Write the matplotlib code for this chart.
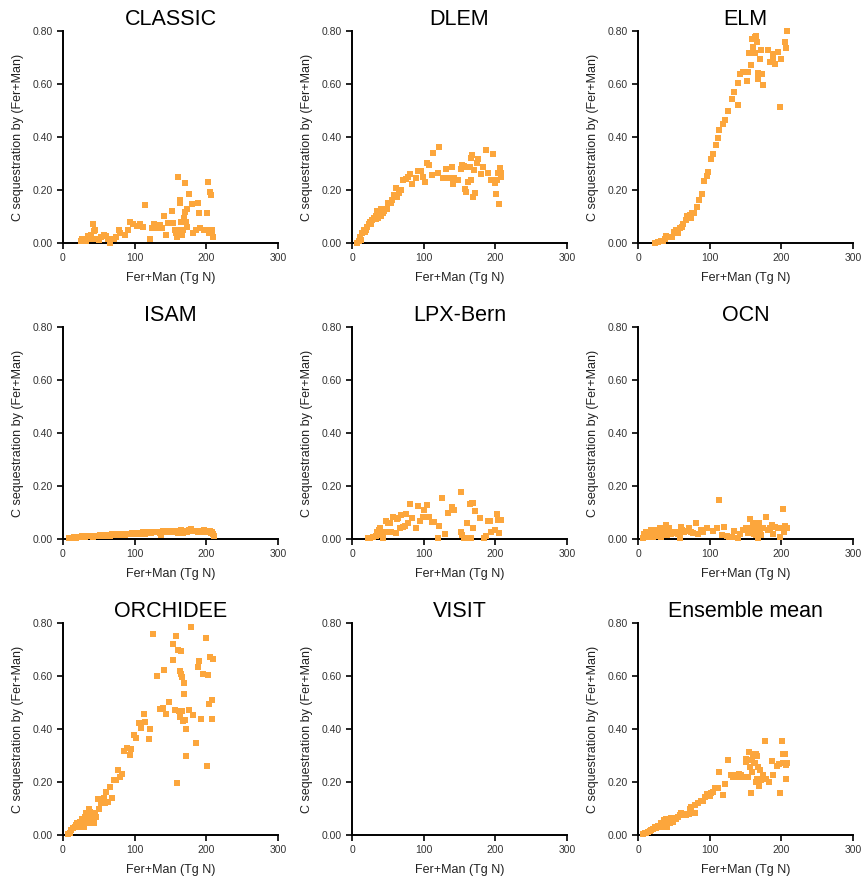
import numpy as np
import matplotlib.pyplot as plt

plt.rcParams['font.family'] = ['Liberation Sans', 'DejaVu Sans']

models = ['CLASSIC', 'DLEM', 'ELM', 'ISAM', 'LPX-Bern', 'OCN',
          'ORCHIDEE', 'VISIT', 'Ensemble mean']

classic_x = [24.7, 26.6, 32.6, 35, 38, 42, 43, 45, 39.6, 46.6, 50, 53.6, 57, 60.6, 63, 65, 71, 74.6,
             78, 80, 86, 91, 93, 98, 102.6, 107, 111, 114, 121, 123.5, 127, 130.5, 135, 138.5, 141,
             143.6, 147, 152, 154, 155.7, 157.6, 158.5, 160, 161.3, 163, 163.6, 165, 166, 167, 168.8,
             169.7, 170, 171, 172.5, 173.4, 176, 180, 182, 185, 188, 189.7, 191, 196.7, 200.5, 201.4,
             202.8, 204, 205.6, 207, 208, 209, 207.5]
classic_y = [0.009, 0.014, 0.009, 0.026, 0.014, 0.072, 0.045, 0.049, 0.03, 0.014, 0.011, 0.021, 0.03,
             0.028, 0.014, 0.0, 0.014, 0.021, 0.049, 0.039, 0.03, 0.049, 0.08, 0.072, 0.064, 0.072,
             0.062, 0.145, 0.014, 0.058, 0.072, 0.058, 0.068, 0.058, 0.1, 0.03, 0.077, 0.122, 0.077,
             0.049, 0.036, 0.024, 0.25, 0.049, 0.162, 0.152, 0.078, 0.03, 0.049, 0.093, 0.228, 0.118,
             0.08, 0.127, 0.062, 0.184, 0.147, 0.036, 0.049, 0.152, 0.114, 0.055, 0.049, 0.114, 0.049,
             0.23, 0.036, 0.194, 0.181, 0.036, 0.021, 0.049]

dlem_x = [7, 9.4, 11.7, 14, 16.4, 18.8, 21, 23.4, 25.8, 28, 30.5, 32.8, 34.2, 36, 37.5, 39.8, 40.8,
          42.7, 44.5, 48.3, 50.2, 54, 56.3, 58.6, 61, 62.4, 65.6, 68, 71.7, 75, 78.3, 81, 84.4, 89,
          92.4, 96, 98.4, 101.7, 104.5, 108, 112.5, 111.6, 119.5, 122, 126.6, 131, 135, 139.7, 141,
          143, 147.7, 151.4, 153.3, 156, 158, 158.5, 160.8, 161.7, 164, 165.5, 166.4, 167.8, 168.3,
          170.2, 172, 174, 175.8, 179.6, 182.8, 187.5, 190, 193.6, 197.4, 199.3, 201.6, 203, 204,
          205, 206.3, 207.7, 207.7, 12.5, 20, 27, 33.5]
dlem_y = [0.0, 0.009, 0.021, 0.036, 0.049, 0.043, 0.062, 0.072, 0.08, 0.087, 0.093, 0.102, 0.122,
          0.093, 0.112, 0.127, 0.1, 0.112, 0.122, 0.127, 0.152, 0.152, 0.162, 0.181, 0.209, 0.175,
          0.187, 0.2, 0.238, 0.24, 0.25, 0.26, 0.223, 0.244, 0.273, 0.273, 0.25, 0.231, 0.303, 0.294,
          0.341, 0.257, 0.265, 0.364, 0.244, 0.278, 0.244, 0.288, 0.223, 0.244, 0.238, 0.278, 0.294,
          0.29, 0.203, 0.194, 0.288, 0.231, 0.288, 0.32, 0.238, 0.332, 0.175, 0.275, 0.19, 0.303,
          0.316, 0.26, 0.288, 0.351, 0.265, 0.238, 0.336, 0.225, 0.185, 0.238, 0.263, 0.147, 0.282,
          0.248, 0.263, 0.012, 0.05, 0.07, 0.09]

elm_x = [24, 28, 31.8, 35, 37.4, 39.7, 42, 44.4, 47.7, 50.5, 53.7, 56, 58.4, 60.7, 63, 66.4, 69, 72,
         73.8, 75.7, 78.5, 81.8, 85, 88.8, 92.5, 95.8, 98, 101.9, 105, 108.4, 111.2, 113, 119,
         121.5, 126, 130.8, 134.6, 139, 140, 142, 147, 152, 153, 155, 158, 159, 160.7, 162.6, 163.5,
         164.5, 165.4, 167, 168, 169.6, 171, 172.9, 175, 181, 184.6, 187.9, 189, 191.6, 195, 198.6,
         200, 204.7, 206.5, 207.5]
elm_y = [0.0, 0.005, 0.009, 0.009, 0.014, 0.026, 0.021, 0.024, 0.021, 0.043, 0.049, 0.039, 0.055,
         0.062, 0.072, 0.087, 0.1, 0.106, 0.093, 0.112, 0.114, 0.137, 0.162, 0.185, 0.234, 0.253,
         0.269, 0.318, 0.335, 0.37, 0.397, 0.426, 0.448, 0.464, 0.498, 0.543, 0.571, 0.52, 0.605,
         0.638, 0.647, 0.613, 0.647, 0.716, 0.672, 0.77, 0.741, 0.776, 0.716, 0.781, 0.76, 0.64,
         0.618, 0.694, 0.728, 0.638, 0.596, 0.728, 0.684, 0.713, 0.697, 0.674, 0.722, 0.512, 0.693,
         0.76, 0.737, 0.8]

isam_x = [8, 10, 13, 16, 18, 21, 24, 27, 30, 33, 36, 39, 42, 45, 48, 51, 54, 57, 60, 63, 66, 69, 72,
          75, 78, 81, 84, 87, 90, 93, 96, 99, 102, 105, 108, 111, 114, 117, 120, 123, 126, 129, 132,
          135, 137, 140, 143, 146, 149, 152, 155, 158, 161, 164, 167, 170, 173, 176, 179, 182, 185,
          188, 191, 194, 197, 200, 203, 206, 209, 210, 208, 205]
isam_y = [0.002, 0.004, 0.005, 0.006, 0.004, 0.008, 0.009, 0.01, 0.008, 0.011, 0.01, 0.012, 0.009,
          0.011, 0.013, 0.015, 0.012, 0.014, 0.011, 0.016, 0.013, 0.017, 0.014, 0.018, 0.016, 0.019,
          0.017, 0.016, 0.02, 0.019, 0.021, 0.022, 0.02, 0.023, 0.019, 0.025, 0.02, 0.024, 0.026,
          0.022, 0.027, 0.025, 0.028, 0.022, 0.015, 0.03, 0.028, 0.032, 0.027, 0.029, 0.025, 0.031,
          0.024, 0.033, 0.024, 0.03, 0.028, 0.034, 0.036, 0.032, 0.029, 0.027, 0.025, 0.03, 0.033,
          0.028, 0.031, 0.022, 0.018, 0.012, 0.026, 0.03]

lpx_x = [22, 25.8, 29.5, 32.8, 34.2, 36, 37.5, 39, 39.8, 40.8, 42, 43.6, 45.5, 47, 50.2, 53, 54.8,
         57.7, 61, 62.4, 64.2, 67, 69, 70.8, 73.6, 75, 78.3, 81, 84.4, 89, 92.4, 95.2, 98.4, 100.8,
         104.5, 108, 111, 114, 119.5, 122, 125.6, 130, 134.5, 139.7, 142, 151.4, 151.4, 153.8, 156,
         160.8, 162.7, 164, 165.5, 167.4, 168.8, 169, 171, 178, 184, 187.5, 190, 192.7, 194.6, 199,
         203, 204, 205, 207.7]
lpx_y = [0.003, 0.005, 0.009, 0.013, 0.025, 0.018, 0.034, 0.043, 0.028, 0.015, 0.021, 0.005, 0.025,
         0.068, 0.059, 0.059, 0.025, 0.084, 0.021, 0.075, 0.08, 0.043, 0.09, 0.046, 0.05, 0.093,
         0.059, 0.131, 0.078, 0.043, 0.126, 0.068, 0.084, 0.109, 0.128, 0.084, 0.065, 0.065, 0.005,
         0.05, 0.156, 0.018, 0.097, 0.122, 0.109, 0.176, 0.028, 0.015, 0.005, 0.059, 0.005, 0.131,
         0.005, 0.134, 0.04, 0.134, 0.106, 0.08, 0.003, 0.013, 0.068, 0.068, 0.025, 0.034, 0.093,
         0.072, 0.021, 0.072]

ocn_x = [7, 8.4, 10.3, 11.7, 13, 15, 16.4, 17.8, 19.6, 21, 22.4, 24.3, 25.7, 27, 29, 30.4, 31.8,
         33.6, 35, 36.4, 38.3, 39.7, 41, 43, 44.4, 46.7, 49, 51.4, 53.7, 56, 58.4, 59.8, 61.7, 64.5,
         67.8, 71, 73.8, 77, 80.4, 84, 88, 91, 95.8, 105, 110, 113, 117, 120.6, 124, 127, 131,
         134.6, 140, 142.5, 147, 150.5, 153.3, 156.5, 158, 159.8, 161.2, 162.6, 164.5, 166, 167.3,
         169, 170.6, 172, 175, 178.5, 181.3, 184.6, 187, 189, 191.6, 195.3, 198.6, 200, 202, 203.3,
         205.6, 208.4]
ocn_y = [0.005, 0.018, 0.013, 0.025, 0.009, 0.028, 0.015, 0.034, 0.021, 0.009, 0.028, 0.018, 0.034,
         0.013, 0.025, 0.04, 0.009, 0.021, 0.034, 0.018, 0.025, 0.053, 0.015, 0.04, 0.025, 0.018,
         0.025, 0.021, 0.028, 0.018, 0.003, 0.046, 0.034, 0.025, 0.03, 0.043, 0.025, 0.021, 0.059,
         0.018, 0.034, 0.025, 0.043, 0.03, 0.04, 0.147, 0.015, 0.046, 0.013, 0.009, 0.009, 0.03,
         0.003, 0.018, 0.034, 0.04, 0.021, 0.075, 0.04, 0.053, 0.018, 0.059, 0.015, 0.04, 0.003,
         0.059, 0.034, 0.015, 0.04, 0.084, 0.034, 0.04, 0.053, 0.018, 0.046, 0.043, 0.009, 0.04,
         0.113, 0.028, 0.05, 0.043]

orchidee_x = [7, 9.3, 11.6, 14, 16.3, 17.7, 19.6, 21.4, 23.3, 25, 27, 28, 28.9, 30.3, 31.7, 32.6, 34,
              35.4, 36.3, 37.3, 38.2, 39.6, 41, 42.8, 44.2, 46.6, 48.4, 50.3, 53.6, 56.8, 58.7, 60.5,
              62.9, 65.2, 68.9, 70.8, 74.5, 76.9, 79.2, 82, 85.2, 89.4, 93.2, 95.5, 98.7, 102.5, 106,
              109.5, 112.7, 114, 120, 122, 125.8, 131.3, 135, 139.7, 140.7, 143.5, 148, 152.8, 153.7,
              156, 157.4, 158.4, 160.7, 161.6, 163, 163.5, 164.4, 165.3, 165.8, 166.7, 167.7, 168.6,
              169, 170, 171.4, 172.3, 176, 179.3, 181.6, 185, 188.6, 189.6, 192, 195.6, 199.4, 200.3,
              202.6, 204, 205, 207.3, 208.2, 208.7]
orchidee_y = [0.003, 0.009, 0.019, 0.025, 0.029, 0.038, 0.044, 0.031, 0.05, 0.038, 0.059, 0.044,
              0.029, 0.069, 0.056, 0.082, 0.05, 0.071, 0.1, 0.044, 0.088, 0.059, 0.071, 0.044, 0.084,
              0.069, 0.134, 0.097, 0.119, 0.138, 0.119, 0.163, 0.125, 0.182, 0.138, 0.209, 0.209,
              0.244, 0.217, 0.229, 0.316, 0.329, 0.303, 0.326, 0.376, 0.367, 0.424, 0.404, 0.458,
              0.426, 0.364, 0.401, 0.759, 0.6, 0.476, 0.48, 0.623, 0.458, 0.502, 0.661, 0.721, 0.47,
              0.752, 0.197, 0.699, 0.468, 0.445, 0.62, 0.696, 0.608, 0.468, 0.598, 0.429, 0.533,
              0.573, 0.433, 0.401, 0.297, 0.473, 0.784, 0.451, 0.347, 0.633, 0.656, 0.436, 0.608,
              0.742, 0.26, 0.602, 0.495, 0.673, 0.51, 0.439, 0.664]

visit_x = []
visit_y = []

mean_x = [7, 9.3, 11.6, 14, 16.3, 18.6, 21, 23.3, 25.6, 28, 30.3, 31.7, 33.5, 35, 36.3, 37.3, 38.7,
          40, 41, 42.8, 44.7, 46.6, 48.9, 51.2, 53.6, 55.9, 58.2, 60.5, 64.3, 67.5, 70.8, 72.2, 74.5,
          76.9, 79.2, 80, 83.8, 87.6, 90.8, 94, 96.9, 100, 102.5, 104.8, 108, 111, 112.7, 118.8, 121,
          125.8, 129.5, 132.7, 135, 138.8, 140.7, 143.5, 146.7, 150, 150.4, 152.8, 154.6, 156,
          157.4, 158.4, 159.3, 160.7, 161.6, 163, 164, 165, 165.8, 166.7, 167.7, 169, 170, 172.3,
          174.6, 177, 179.3, 182.6, 186.3, 189, 193.3, 196.5, 198.4, 200.3, 202, 203, 205, 206, 207,
          207.7]
mean_y = [0.003, 0.006, 0.009, 0.013, 0.016, 0.019, 0.021, 0.029, 0.025, 0.034, 0.031, 0.044, 0.029,
          0.038, 0.056, 0.044, 0.059, 0.031, 0.046, 0.056, 0.044, 0.063, 0.05, 0.066, 0.059, 0.069,
          0.075, 0.082, 0.079, 0.075, 0.079, 0.1, 0.107, 0.084, 0.084, 0.113, 0.119, 0.129, 0.129,
          0.144, 0.154, 0.147, 0.159, 0.163, 0.176, 0.179, 0.236, 0.15, 0.192, 0.282, 0.226, 0.219,
          0.226, 0.217, 0.232, 0.226, 0.217, 0.285, 0.276, 0.219, 0.313, 0.257, 0.159, 0.282,
          0.238, 0.307, 0.272, 0.27, 0.304, 0.2, 0.213, 0.297, 0.257, 0.184, 0.244, 0.207, 0.226,
          0.355, 0.213, 0.2, 0.28, 0.228, 0.26, 0.267, 0.159, 0.355, 0.27, 0.307, 0.307, 0.263,
          0.213, 0.27]

data = [(classic_x, classic_y), (dlem_x, dlem_y), (elm_x, elm_y),
        (isam_x, isam_y), (lpx_x, lpx_y), (ocn_x, ocn_y),
        (orchidee_x, orchidee_y), (visit_x, visit_y), (mean_x, mean_y)]

xticks = [0, 100, 200, 300]
yticks = [0.0, 0.2, 0.4, 0.6, 0.8]
ytick_labels = ['0.00', '0.20', '0.40', '0.60', '0.80']

fig = plt.figure(figsize=(8.61, 8.77), dpi=100)
lefts = [63, 352, 638]
bottoms = [243, 539, 835]
W, H = 861, 877

for k, name in enumerate(models):
    r, c = divmod(k, 3)
    ax = fig.add_axes([lefts[c] / W, 1 - bottoms[r] / H, 215 / W, 212 / H])
    xs, ys = data[k]
    ax.scatter(xs, ys, s=13, marker='s', color='#FCA63C', linewidths=0, clip_on=False, zorder=3)
    ax.set_xlim(0, 300)
    ax.set_ylim(0, 0.8)
    ax.set_xticks(xticks)
    ax.set_yticks(yticks)
    ax.set_yticklabels(ytick_labels)
    for s in ['top', 'right']:
        ax.spines[s].set_visible(False)
    for s in ['left', 'bottom']:
        ax.spines[s].set_linewidth(1.4)
    ax.tick_params(direction='out', length=4, width=1.2, labelsize=7.5, labelcolor='#333333')
    ax.set_title(name, fontsize=15.5, pad=4)
    ax.set_xlabel('Fer+Man (Tg N)', fontsize=9, labelpad=6, color='#222222')
    ax.set_ylabel('C sequestration by (Fer+Man)', fontsize=9, labelpad=6, color='#222222')

fig.savefig('out.png', dpi=100)
